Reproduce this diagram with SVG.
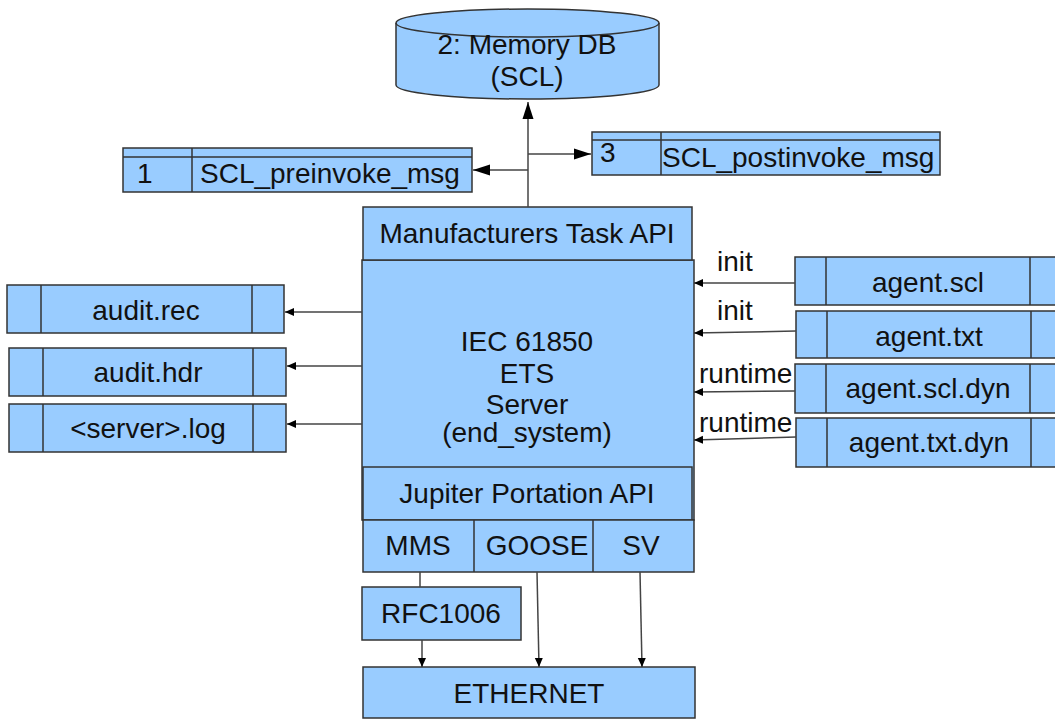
<svg xmlns="http://www.w3.org/2000/svg" width="1055" height="719" viewBox="0 0 1055 719">
<style>
.b{fill:#99ccff;stroke:#333;stroke-width:1.5}
.d{fill:none;stroke:#333;stroke-width:1.5}
.t{font-family:"Liberation Sans",Arial,sans-serif;font-size:28px;fill:#111}
.m{text-anchor:middle}
.c{fill:none;stroke:#444;stroke-width:1.5}
</style>
<defs>
<marker id="big" markerUnits="userSpaceOnUse" markerWidth="18" markerHeight="12" refX="17" refY="6" orient="auto"><path d="M0,0.5 L17,6 L0,11.5 z" fill="#000"/></marker>
<marker id="sm" markerUnits="userSpaceOnUse" markerWidth="10" markerHeight="9" refX="9" refY="4.5" orient="auto"><path d="M0,0.5 L9,4.5 L0,8.5 z" fill="#000"/></marker>
</defs>
<rect width="1055" height="719" fill="#fff"/>
<g id="memorydb">
<path class="b" d="M396,23 L396,85 A131.5,14 0 0 0 659,85 L659,23 A131.5,14 0 0 0 396,23 z"/>
<path class="d" d="M396,23 A131.5,14 0 0 0 659,23"/>
<text class="t m" x="527" y="54">2: Memory DB</text>
<text class="t m" x="527" y="86">(SCL)</text>
</g>
<g id="preinvoke">
<rect class="b" x="123" y="148" width="349" height="44"/>
<line class="d" x1="123" y1="157" x2="472" y2="157"/>
<line class="d" x1="192" y1="148" x2="192" y2="192"/>
<text class="t" x="137" y="183">1</text>
<text class="t" x="200" y="183">SCL_preinvoke_msg</text>
</g>
<g id="postinvoke">
<rect class="b" x="592" y="132" width="348" height="43"/>
<line class="d" x1="592" y1="140" x2="940" y2="140"/>
<line class="d" x1="661" y1="132" x2="661" y2="175"/>
<text class="t" x="600" y="162">3</text>
<text class="t" x="662" y="167">SCL_postinvoke_msg</text>
</g>
<g id="server">
<rect class="b" x="362" y="260" width="332" height="260"/>
<text class="t m" x="527" y="351">IEC 61850</text>
<text class="t m" x="527" y="383">ETS</text>
<text class="t m" x="527" y="414">Server</text>
<text class="t m" x="527" y="442">(end_system)</text>
</g>
<g id="mta">
<rect class="b" x="363" y="207" width="329" height="53"/>
<text class="t m" x="527" y="243">Manufacturers Task API</text>
</g>
<g id="jupiter">
<rect class="b" x="363" y="467" width="329" height="53"/>
<text class="t m" x="527" y="503">Jupiter Portation API</text>
</g>
<g id="protocols">
<rect class="b" x="363" y="520" width="331" height="52"/>
<line class="d" x1="474" y1="520" x2="474" y2="572"/>
<line class="d" x1="593" y1="520" x2="593" y2="572"/>
<text class="t m" x="418" y="555">MMS</text>
<text class="t m" x="537" y="555">GOOSE</text>
<text class="t m" x="641" y="555">SV</text>
</g>
<g id="rfc1006">
<rect class="b" x="362" y="587" width="159" height="53"/>
<text class="t m" x="441" y="623">RFC1006</text>
</g>
<g id="ethernet">
<rect class="b" x="363" y="667" width="332" height="51"/>
<text class="t m" x="529" y="703">ETHERNET</text>
</g>
<g id="auditrec">
<rect class="b" x="7" y="285" width="277" height="48"/>
<line class="d" x1="41" y1="285" x2="41" y2="333"/>
<line class="d" x1="252" y1="285" x2="252" y2="333"/>
<text class="t m" x="146" y="320">audit.rec</text>
</g>
<g id="audithdr">
<rect class="b" x="9" y="348" width="277" height="48"/>
<line class="d" x1="43" y1="348" x2="43" y2="396"/>
<line class="d" x1="253" y1="348" x2="253" y2="396"/>
<text class="t m" x="148" y="382">audit.hdr</text>
</g>
<g id="serverlog">
<rect class="b" x="9" y="404" width="277" height="48"/>
<line class="d" x1="43" y1="404" x2="43" y2="452"/>
<line class="d" x1="253" y1="404" x2="253" y2="452"/>
<text class="t m" x="148" y="438">&lt;server&gt;.log</text>
</g>
<g id="agentscl">
<rect class="b" x="795" y="257" width="270" height="48"/>
<line class="d" x1="826" y1="257" x2="826" y2="305"/>
<line class="d" x1="1030" y1="257" x2="1030" y2="305"/>
<text class="t m" x="928" y="292">agent.scl</text>
</g>
<g id="agenttxt">
<rect class="b" x="796" y="311" width="270" height="47"/>
<line class="d" x1="827" y1="311" x2="827" y2="358"/>
<line class="d" x1="1031" y1="311" x2="1031" y2="358"/>
<text class="t m" x="929" y="346">agent.txt</text>
</g>
<g id="agentscldyn">
<rect class="b" x="795" y="364" width="270" height="49"/>
<line class="d" x1="826" y1="364" x2="826" y2="413"/>
<line class="d" x1="1030" y1="364" x2="1030" y2="413"/>
<text class="t m" x="928" y="398">agent.scl.dyn</text>
</g>
<g id="agenttxtdyn">
<rect class="b" x="796" y="418" width="270" height="49"/>
<line class="d" x1="827" y1="418" x2="827" y2="467"/>
<line class="d" x1="1031" y1="418" x2="1031" y2="467"/>
<text class="t m" x="929" y="452">agent.txt.dyn</text>
</g>
<g id="connectors">
<path class="c" d="M528,207 L528,102" marker-end="url(#big)"/>
<path class="c" d="M528,170 L473,170" marker-end="url(#big)"/>
<path class="c" d="M528,154 L591,154" marker-end="url(#big)"/>
<path class="c" d="M362,312 L285,312" marker-end="url(#sm)"/>
<path class="c" d="M362,366 L287,366" marker-end="url(#sm)"/>
<path class="c" d="M362,424 L287,424" marker-end="url(#sm)"/>
<path class="c" d="M795,283 L694,283" marker-end="url(#sm)"/>
<path class="c" d="M796,331 L694,333" marker-end="url(#sm)"/>
<path class="c" d="M795,391 L694,392" marker-end="url(#sm)"/>
<path class="c" d="M796,437 L694,440" marker-end="url(#sm)"/>
<path class="c" d="M420,572 L420,587"/>
<path class="c" d="M422,640 L422,667" marker-end="url(#sm)"/>
<path class="c" d="M537,572 L539,667" marker-end="url(#sm)"/>
<path class="c" d="M640,572 L642,667" marker-end="url(#sm)"/>
<text class="t" x="717" y="271">init</text>
<text class="t" x="717" y="320">init</text>
<text class="t" x="699" y="383">runtime</text>
<text class="t" x="699" y="432">runtime</text>
</g>
</svg>
